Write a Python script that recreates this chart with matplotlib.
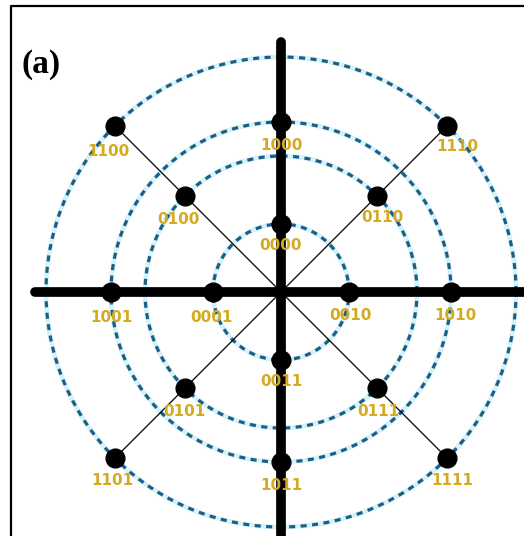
import numpy as np
import matplotlib.pyplot as plt

# ring radii (pixels of the original figure, centre at the axes crossing)
radii = [68, 136, 170, 235]

# constellation points: label, ring index, angle (deg)
labels = ['0000', '0001', '0010', '0011',
          '1000', '1001', '1010', '1011',
          '0100', '0110', '0101', '0111',
          '1100', '1110', '1101', '1111']
ring = [0, 0, 0, 0,
        2, 2, 2, 2,
        1, 1, 1, 1,
        3, 3, 3, 3]
angle = [90, 180, 0, 270,
         90, 180, 0, 270,
         135, 45, 225, 315,
         135, 45, 225, 315]
# label shift (dx, dy) under each point
label_dx = [0, -2, 1, 0,
            0, 0, 4, 0,
            -6, 5, 0, 1,
            -6, 10, -2, 5]
label_dy = [-21, -25, -23, -21,
            -23, -25, -23, -24,
            -24, -22, -23, -23,
            -26, -21, -22, -22]

gold = '#d3aa22'
blue = '#1c5f86'

fig = plt.figure(figsize=(5.24, 5.36), dpi=100)
ax = fig.add_axes([0, 0, 1, 1])
ax.set_xlim(-281, 243)
ax.set_ylim(-244, 292)
ax.set_aspect('equal')
ax.axis('off')

# frame (only top and left edges visible)
ax.plot([-270, -270, 243], [-244, 286, 286], color='black', lw=1.6)

th = np.linspace(0, 2 * np.pi, 400)
for r in radii:
    ax.plot(r * np.cos(th), r * np.sin(th), color='#aee6f5', lw=3.4, alpha=0.5)
    ax.plot(r * np.cos(th), r * np.sin(th), color=blue, lw=2.3,
            linestyle=(0, (1.9, 1.7)))

# diagonals
d = radii[3] * np.cos(np.pi / 4)
ax.plot([-d, d], [d, -d], color='black', lw=0.9)
ax.plot([-d, d], [-d, d], color='black', lw=0.9)

# thick axes
ax.plot([-246, 250], [0, 0], color='black', lw=7, solid_capstyle='round')
ax.plot([0, 0], [-250, 250], color='black', lw=7, solid_capstyle='round')

xs = [radii[k] * np.cos(np.radians(a)) for k, a in zip(ring, angle)]
ys = [radii[k] * np.sin(np.radians(a)) for k, a in zip(ring, angle)]
ax.plot(xs, ys, 'o', color='black', ms=13.5, linestyle='none')

for x, y, s, dx, dy in zip(xs, ys, labels, label_dx, label_dy):
    ax.text(x + dx, y + dy, s, color=gold, fontsize=11, fontweight='bold',
            ha='center', va='center')

ax.text(-240, 227, '(a)', fontsize=24, fontweight='bold',
        family='Liberation Serif', ha='center', va='center')

fig.savefig('out.png', dpi=100)
